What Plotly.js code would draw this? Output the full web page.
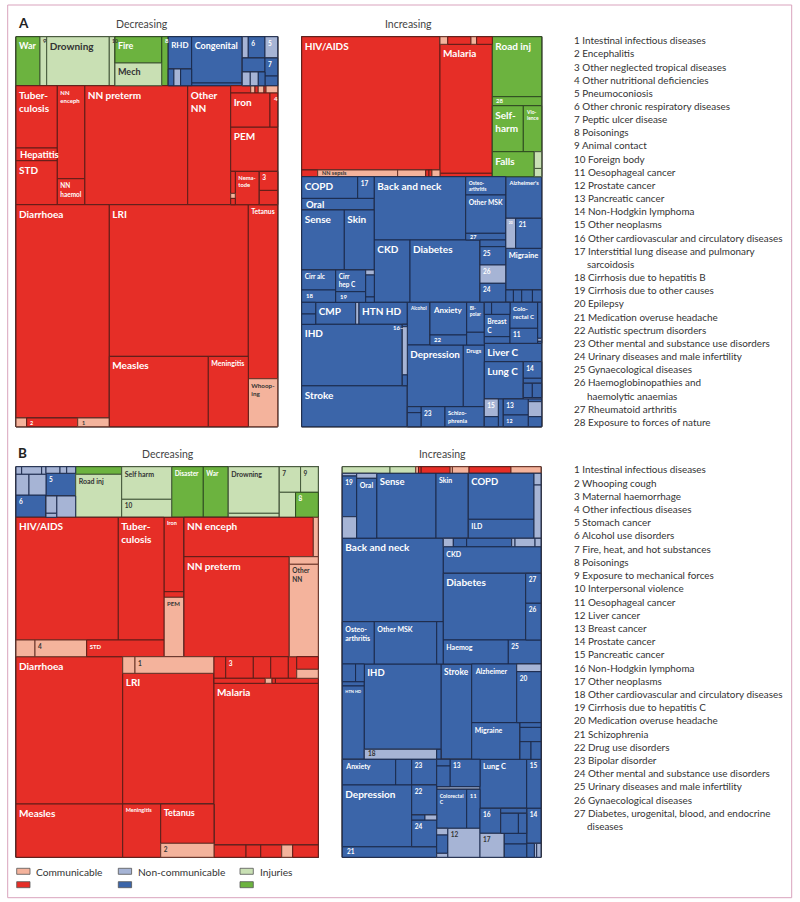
<!DOCTYPE html>
<html><head><meta charset="utf-8">
<script src="https://cdn.plot.ly/plotly-3.0.1.min.js"></script>
<style>html,body{margin:0;padding:0;background:#fff;}#chart{width:800px;height:902px;}</style>
</head><body><div id="chart"></div>
<script>
// ---------------- DATA ----------------
// Leaf: [label, value (relative burden = tile area), kind]
// kind: C communicable (dark), c communicable (light), N non-communicable (dark), n (light), I injuries (dark), i (light)
// Group: {d:'h'|'v', c:[children]}  (h = side by side, v = stacked)
const decA = {d:'v', c:[
  {d:'h', c:[['War',1176,'I'],['9',328,'i'],['Drowning',3067,'i'],['10',279,'i'],
    {d:'v', c:[['Fire',1228,'I'],['Mech',1060,'i']]},
    ['8',323,'I'],
    {d:'v', c:[['RHD',756,'N'], {d:'h', c:[['',95,'N'],['',112,'n'],['',184,'N']]}]},
    {d:'v', c:[['Congenital',2343,'N'],['',137,'N']]},
    {d:'v', c:[{d:'h', c:[['',128,'n'],['6',356,'N'],['5',271,'n']]},
               {d:'h', c:[{d:'v', c:[['',318,'N'], {d:'h', c:[['',110,'n'],['',110,'n'],['',92,'N']]}]},
                          {d:'v', c:[['7',229,'N'],['',123,'N']]}]}]}
  ]},
  {d:'h', c:[
    {d:'v', c:[['Tuber-<br>culosis',2573,'C'],['Hepatitis',525,'C'],['STD',1817,'C']]},
    {d:'v', c:[['NN<br>enceph',2548,'C'],['NN<br>haemol',712,'C']]},
    ['NN preterm',12257,'C'],
    ['Other<br>NN',5117,'C'],
    {d:'v', c:[
      {d:'h', c:[['',146,'C'],['',31,'c'],['',24,'C'],['',42,'c'],['',15,'C'],['',85,'c']]},
      {d:'h', c:[['Iron',1336,'C'],['4',262,'C']]},
      ['PEM',2087,'C'],
      {d:'h', c:[{d:'v', c:[['',101,'C'],['',23,'c'],['',29,'C']]}, ['Nema-<br>tode',799,'C'], {d:'v', c:[['3',350,'C'],['',263,'C']]}]}
    ]}
  ]},
  {d:'h', c:[
    {d:'v', c:[['Diarrhoea',19901,'C'], {d:'h', c:[['',93,'c'],['2',444,'C'],['1',275,'c']]}]},
    {d:'v', c:[['LRI',21086,'C'], {d:'h', c:[['Measles',6960,'C'],['Meningitis',2812,'C']]}]},
    {d:'v', c:[['Tetanus',5116,'C'],['Whoop-<br>ing',1411,'c']]}
  ]}
]};

const incA = {d:'v', c:[
  {d:'h', c:[
    {d:'v', c:[['HIV/AIDS',18435,'C'], {d:'h', c:[['',107,'C'],['NN sepsis',536,'c'],['',188,'c'],['',22,'C'],['',20,'C'],['',54,'c']]}]},
    {d:'v', c:[{d:'h', c:[['',59,'c'],['',177,'C'],['',43,'c'],['',119,'C']]}, ['Malaria',6747,'C'], ['',178,'C']]},
    {d:'v', c:[['Road inj',2964,'I'],['28',445,'I'],
               {d:'h', c:[['Self-<br>harm',1426,'I'],['Vio-<br>lence',846,'I']]},
               {d:'h', c:[['Falls',1050,'I'], {d:'v', c:[['',124,'i'],['',61,'i']]}]}]}
  ]},
  {d:'h', c:[
    {d:'v', c:[
      {d:'h', c:[['COPD',1210,'N'],['17',359,'N']]},
      ['Oral',849,'N'],
      {d:'h', c:[['Sense',2556,'N'],['Skin',1800,'N']]},
      {d:'h', c:[{d:'v', c:[['Cirr alc',680,'N'],['18',418,'N']]},
                 {d:'v', c:[['Cirr<br>hep C',651,'N'],['19',318,'N']]},
                 {d:'v', c:[['',43,'n'],['',189,'N'],['',46,'N']]}]}
    ]},
    {d:'v', c:[
      {d:'h', c:[['Back and neck',5786,'N'], {d:'v', c:[['Osteo-<br>arthritis',732,'N'],['Other MSK',1532,'N'],['27',268,'N']]}]},
      {d:'h', c:[['CKD',2224,'N'],['Diabetes',4361,'N'], {d:'v', c:[['',172,'N'],['25',470,'N'],['26',470,'n'],['24',488,'N']]}]}
    ]},
    {d:'v', c:[
      ["Alzheimer's",1498,'N'],
      {d:'h', c:[['20',300,'n'],['21',780,'N']]},
      ['Migraine',1501,'N'],
      {d:'h', c:[['',95,'N'],['',102,'N'],['',132,'N'],['',114,'N']]}
    ]}
  ]},
  {d:'h', c:[
    {d:'v', c:[
      {d:'h', c:[{d:'v', c:[['',164,'N'],['',144,'N']]}, ['CMP',880,'N'], ['',73,'n'], ['HTN HD',1063,'N']]},
      {d:'h', c:[['IHD',6177,'N'], {d:'v', c:[['',12,'N'],['16',242,'n'],['',54,'N']]}]},
      ['Stroke',4330,'N']
    ]},
    {d:'v', c:[
      {d:'h', c:[['Alcohol',969,'N'], {d:'v', c:[['Anxiety',1200,'N'],['22',367,'N']]}, {d:'v', c:[['Bi-<br>polar',528,'N'],['',224,'N']]}]},
      {d:'h', c:[['Depression',3455,'N'],['Drugs',1296,'N']]},
      {d:'h', c:[{d:'v', c:[['',82,'N'],['',192,'N']]}, ['23',480,'N'], ['Schizo-<br>phrenia',786,'N']]}
    ]},
    {d:'v', c:[
      {d:'h', c:[{d:'v', c:[{d:'h', c:[['',88,'N'],['',221,'N']]}, ['Breast<br>C',576,'N'], ['',170,'N']]},
                 {d:'v', c:[['Colo-<br>rectal C',720,'N'],['11',416,'N']]},
                 {d:'v', c:[['',144,'N'],['',12,'n'],['',8,'N']]}]},
      ['Liver C',1056,'N'],
      {d:'h', c:[['Lung C',1455,'N'], {d:'v', c:[['14',305,'N'],['',92,'N'], {d:'h', c:[['',129,'N'],['',134,'N']]}, ['',26,'n']]}]},
      {d:'h', c:[{d:'v', c:[['15',248,'n'],['',140,'N']]}, ['',139,'N'], {d:'v', c:[['13',400,'N'],['12',293,'N']]}, {d:'v', c:[['',36,'N'],['',201,'n'],['',134,'N']]}]}
    ]}
  ]}
]};

const decB = {d:'v', c:[
  {d:'h', c:[
    {d:'v', c:[{d:'h', c:[['',43,'n'],['',152,'n'],['',33,'n']]}, {d:'h', c:[['',269,'n'],['',352,'n']]}, ['6',669,'N']]},
    {d:'v', c:[{d:'h', c:[['',92,'n'],['',44,'n'],['',59,'n']]}, ['5',674,'N'], {d:'h', c:[{d:'v', c:[['',185,'n'],['',43,'n']]}, ['',405,'n']]}]},
    {d:'v', c:[['',350,'I'],['Road inj',1978,'i']]},
    {d:'v', c:[['Self harm',1630,'i'],['10',900,'i']]},
    ['Disaster',1599,'I'],
    ['War',1265,'I'],
    {d:'v', c:[['Drowning',2377,'i'],['',204,'i']]},
    {d:'v', c:[{d:'h', c:[['7',545,'i'],['9',453,'i']]}, {d:'h', c:[['',408,'i'],['8',568,'I']]}]}
  ]},
  {d:'h', c:[
    {d:'v', c:[{d:'h', c:[['HIV/AIDS',12552,'C'],['Tuber-<br>culosis',5607,'C']]}, {d:'h', c:[['',317,'c'],['4',863,'c'],['STD',1291,'C']]}]},
    {d:'v', c:[['Iron',1488,'C'],['',112,'C'],['PEM',1188,'c']]},
    {d:'v', c:[{d:'h', c:[['NN enceph',5094,'C'],['',197,'c']]},
               {d:'h', c:[['NN preterm',10530,'C'], {d:'v', c:[['',220,'c'],['Other<br>NN',2680,'c']]}]}]}
  ]},
  {d:'h', c:[
    {d:'v', c:[['Diarrhoea',15717,'C'],['Measles',5687,'C']]},
    {d:'v', c:[{d:'h', c:[['',204,'c'],['1',1311,'c']]}, ['LRI',11933,'C'],
               {d:'h', c:[['Meningitis',2025,'C'], {d:'v', c:[['Tetanus',2095,'C'],['2',746,'c']]}]}]},
    {d:'v', c:[
      {d:'h', c:[['',253,'C'],['3',596,'C'],['',376,'C'],['',380,'C'],['',181,'C'], {d:'v', c:[['',272,'C'],['',194,'c']]}]},
      {d:'h', c:[['',257,'C'],['',34,'c'],['',17,'C'],['',215,'C']]},
      ['Malaria',16865,'C'],
      {d:'h', c:[['',394,'C'],['',181,'C'],['',258,'C'],['',135,'c'],['',315,'C']]}
    ]}
  ]}
]};

const incB = {d:'v', c:[
  {d:'h', c:[['',315,'i'],['',170,'i'],['',18,'c'],['',18,'C'],['',191,'C'],['',15,'c'],['',110,'c'],['',277,'C'],['',198,'c']]},
  {d:'h', c:[
    {d:'v', c:[['',39,'n'],['19',586,'N'],['',311,'n']]},
    {d:'v', c:[['',100,'n'],['Oral',1200,'N']]},
    ['Sense',3855,'N'],
    ['Skin',2100,'N'],
    {d:'v', c:[['COPD',3022,'N'],['ILD',1248,'N']]},
    {d:'v', c:[['',82,'n'],['',373,'n']]}
  ]},
  {d:'h', c:[
    {d:'v', c:[['Back and neck',8423,'N'], {d:'h', c:[['Osteo-<br>arthritis',1354,'N'],['Other MSK',2640,'N'],['',279,'N']]}]},
    {d:'v', c:[
      {d:'h', c:[['',84,'n'],['',112,'N'],['',378,'N'],['',28,'n'],['',168,'n'],['',50,'n']]},
      ['CKD',2599,'N'],
      {d:'h', c:[['Diabetes',5494,'N'], {d:'v', c:[['27',459,'N'],['26',562,'N']]}]},
      {d:'h', c:[['Haemog',1560,'N'],['25',785,'N']]}
    ]}
  ]},
  {d:'h', c:[
    {d:'v', c:[{d:'h', c:[['',235,'N'],['',154,'N']]}, ['',95,'N'], ['HTN HD',1613,'N']]},
    {d:'v', c:[['IHD',6543,'N'], {d:'h', c:[['18',724,'n'],['',43,'N']]}]},
    ['Stroke',2926,'N'],
    {d:'v', c:[
      {d:'h', c:[['Alzheimer',2642,'N'], {d:'v', c:[['',187,'n'],['20',1239,'N']]}]},
      {d:'h', c:[['Migraine',1768,'N'], {d:'v', c:[['',99,'N'],['',300,'N'], {d:'h', c:[['',194,'N'],['',176,'N']]}]}]}
    ]}
  ]},
  {d:'h', c:[
    {d:'v', c:[
      {d:'h', c:[['Anxiety',1372,'N'],['',411,'N'],['23',643,'N']]},
      {d:'h', c:[['Depression',4282,'N'], {d:'v', c:[['22',750,'N'], {d:'h', c:[['',67,'N'],['',59,'n']]}, ['24',668,'N']]}]},
      ['21',1001,'N']
    ]},
    {d:'v', c:[
      {d:'h', c:[{d:'v', c:[['',89,'N'],['',275,'N']]}, ['13',822,'N']]},
      ['',113,'n'],
      {d:'h', c:[['Colorectal<br>C',1170,'N'],['11',519,'N']]},
      {d:'h', c:[{d:'v', c:[['',74,'n'],['',201,'N'],['',44,'n']]}, ['12',937,'n']]}
    ]},
    {d:'v', c:[
      ['Lung C',2288,'N'],
      {d:'h', c:[['16',518,'N'], {d:'v', c:[['',130,'N'], {d:'h', c:[['',354,'N'],['',166,'N']]}]}]},
      {d:'h', c:[['17',583,'n'], {d:'v', c:[['',240,'N'],['',298,'N']]}]}
    ]},
    {d:'v', c:[['15',701,'N'],['14',501,'N'], {d:'h', c:[['',108,'N'],['',32,'n'],['',60,'n']]}]}
  ]}
]};

const listA = ['1 Intestinal infectious diseases','2 Encephalitis','3 Other neglected tropical diseases',
  '4 Other nutritional deficiencies','5 Pneumoconiosis','6 Other chronic respiratory diseases','7 Peptic ulcer disease',
  '8 Poisonings','9 Animal contact','10 Foreign body','11 Oesophageal cancer','12 Prostate cancer','13 Pancreatic cancer',
  '14 Non-Hodgkin lymphoma','15 Other neoplasms','16 Other cardiovascular and circulatory diseases',
  '17 Interstitial lung disease and pulmonary|sarcoidosis','18 Cirrhosis due to hepatitis B','19 Cirrhosis due to other causes',
  '20 Epilepsy','21 Medication overuse headache','22 Autistic spectrum disorders','23 Other mental and substance use disorders',
  '24 Urinary diseases and male infertility','25 Gynaecological diseases','26 Haemoglobinopathies and|haemolytic anaemias',
  '27 Rheumatoid arthritis','28 Exposure to forces of nature'];
const listB = ['1 Intestinal infectious diseases','2 Whooping cough','3 Maternal haemorrhage','4 Other infectious diseases',
  '5 Stomach cancer','6 Alcohol use disorders','7 Fire, heat, and hot substances','8 Poisonings',
  '9 Exposure to mechanical forces','10 Interpersonal violence','11 Oesophageal cancer','12 Liver cancer','13 Breast cancer',
  '14 Prostate cancer','15 Pancreatic cancer','16 Non-Hodgkin lymphoma','17 Other neoplasms',
  '18 Other cardiovascular and circulatory diseases','19 Cirrhosis due to hepatitis C','20 Medication overuse headache',
  '21 Schizophrenia','22 Drug use disorders','23 Bipolar disorder','24 Other mental and substance use disorders',
  '25 Urinary diseases and male infertility','26 Gynaecological diseases','27 Diabetes, urogenital, blood, and endocrine|diseases'];
const legendGroups = ['Communicable','Non-communicable','Injuries'];
const legendKinds = [['c','C'],['n','N'],['i','I']];

// ---------------- STYLE ----------------
const W = 800, H = 902;
const FONT = 'Lato, "Open Sans", sans-serif';
const FILL = {C:'#e62e27', c:'#f4b39c', N:'#3b65a9', n:'#a6b4d5', I:'#6cb33f', i:'#c9e0b4', G:'#ffffff'};
const EDGE = {C:'#5e1d18', c:'#6a3428', N:'#1b2a4c', n:'#1f2e50', I:'#2e4a20', i:'#44583a', G:'#3d3535'};
const DARKTXT = '#333333';
const SIZE_DEFAULT = {decA:10, incA:10, decB:10, incB:7};
const SIZE_NUM = 6.5;
const SIZE_OVR = {
  decA:{'NN<br>enceph':6,'NN<br>haemol':7,'Nema-<br>tode':6.5,'Meningitis':7,'Tetanus':7,'Whoop-<br>ing':7.5,'War':9,'Fire':9,'Mech':9,'RHD':9,'Congenital':9},
  incA:{'Vio-<br>lence':7,'Osteo-<br>arthritis':7,'Other MSK':7,"Alzheimer's":7,'Migraine':7.5,'Cirr alc':6.5,
        'Cirr<br>hep C':6.5,'Alcohol':6.5,'Anxiety':8,'Bi-<br>polar':6.5,'Drugs':6.5,'Schizo-<br>phrenia':7,'Breast<br>C':7,'Colo-<br>rectal C':6.5},
  decB:{'Road inj':7,'Self harm':7,'Disaster':6.5,'War':6.5,'Drowning':7,'Iron':5.5,'PEM':6,'Other<br>NN':6.5,'STD':6,'Meningitis':5.5,'Tetanus':9},
  incB:{'Sense':9.5,'COPD':9.5,'Back and neck':10,'Diabetes':10,'IHD':9.5,'Stroke':8.5,'Depression':10,'HTN HD':5,'Lung C':7.5}
};
const LIGHTBLUE_TXT = {decA:'#ffffff', incA:'#ffffff', decB:'#ffffff', incB:DARKTXT};
// labels in tiles too thin for inside text: drawn as callouts [x, yCenter, size, color, shown text]
const CALLOUT = {
  decA:{'9':[41,40.5,6,DARKTXT],'10':[109.6,40.5,5,DARKTXT],'8':[162.5,40.5,6,'#fff'],'Hepatitis':[18,154.3,9.5,'#fff'],
        '4':[271.8,98.5,6,'#fff'],'2':[28,422.8,5.5,'#fff'],'1':[79.5,422.8,5.5,DARKTXT]},
  incA:{'16':[390.5,327.3,6,'#fff','16\u2013'],'28':[494.3,100.8,6,'#fff'],'NN sepsis':[320,172.9,5.5,DARKTXT],
        'Oral':[303.5,204.3,9.5,'#fff'],'18':[303.5,295,6,'#fff'],'19':[337.5,296.2,6,'#fff'],'27':[467.5,236.7,5.5,'#fff'],
        '22':[432,339.5,6,'#fff']},
  decB:{},
  incB:{'21':[344.5,851.5,6.5,'#fff'],'18':[366,753.8,6.5,DARKTXT]}
};
// split direction at each depth for 'slice-dice' packing (depth 0 = side by side)
const dirAt = d => (d % 2 === 0 ? 'h' : 'v');

function build(tree, key) {
  const ids=[], parents=[], values=[], fills=[], edges=[], texts=[], tcol=[], tsize=[];
  let n = 0;
  function push(parent, value, kind, label) {
    const id = key + '_' + (n++);
    ids.push(id); parents.push(parent); values.push(value);
    fills.push(FILL[kind]); edges.push(EDGE[kind]);
    texts.push(CALLOUT[key][label] ? '' : label);
    let col = '#ffffff';
    if (kind === 'c' || kind === 'i') col = DARKTXT;
    if (kind === 'n') col = LIGHTBLUE_TXT[key];
    tcol.push(col);
    let s = /^\d+$/.test(label) ? SIZE_NUM : SIZE_DEFAULT[key];
    if (SIZE_OVR[key][label] !== undefined) s = SIZE_OVR[key][label];
    tsize.push(s);
    return id;
  }
  function add(node, parent, depth) {
    if (Array.isArray(node)) { push(parent, node[1], node[2], node[0]); return; }
    if (node.d !== dirAt(depth)) { const w = push(parent, 0, 'G', ''); add(node, w, depth + 1); return; }
    const id = push(parent, 0, 'G', '');
    node.c.forEach(ch => add(ch, id, depth + 1));
  }
  add(tree, '', 0);
  return {ids, parents, values, fills, edges, texts, tcol, tsize};
}

function px2dom(x0, x1, y0, y1) { return {x:[x0 / W, x1 / W], y:[1 - y1 / H, 1 - y0 / H]}; }

function trace(tree, key, dom) {
  const b = build(tree, key);
  return {
    type:'treemap', ids:b.ids, labels:b.ids, parents:b.parents, values:b.values,
    branchvalues:'remainder', sort:false, text:b.texts, textinfo:'text',
    textposition:'top left', hoverinfo:'skip',
    textfont:{family:FONT, size:b.tsize, color:b.tcol, weight:'bold'},
    insidetextfont:{family:FONT, size:b.tsize, color:b.tcol, weight:'bold'},
    marker:{colors:b.fills, line:{color:b.edges, width:1}, pad:{t:0, l:0, r:0, b:0}},
    tiling:{packing:'slice-dice', pad:0},
    leaf:{opacity:1}, pathbar:{visible:false}, root:{color:'rgba(0,0,0,0)'},
    domain:dom
  };
}

const data = [
  trace(decA, 'decA', px2dom(16, 277.7, 36.7, 426.7)),
  trace(incA, 'incA', px2dom(301.7, 541.7, 36.7, 426.7)),
  trace(decB, 'decB', px2dom(16, 318.3, 466.7, 857.3)),
  trace(incB, 'incB', px2dom(342.3, 541, 466.7, 857.3))
];

const ann = [];
const A = (x, y, text, opt) => ann.push(Object.assign({xref:'paper', yref:'paper', x:x / W, y:1 - y / H, text,
  showarrow:false, xanchor:'left', yanchor:'middle', font:{family:FONT, size:9.9, color:'#333'}}, opt || {}));

Object.keys(CALLOUT).forEach(k => Object.keys(CALLOUT[k]).forEach(lab => {
  const c = CALLOUT[k][lab];
  A(c[0], c[1], c[4] || lab, {font:{family:FONT, size:c[2], color:c[3], weight:'bold'}, xshift:0});
}));

A(15.5, 23.5, '<b>A</b>', {font:{family:FONT, size:13.5, color:'#222'}});
A(141.7, 24.5, 'Decreasing', {xanchor:'center', font:{family:FONT, size:10.5, color:'#444'}});
A(408, 24.5, 'Increasing', {xanchor:'center', font:{family:FONT, size:10.5, color:'#444'}});
A(15.5, 453, '<b>B</b>', {font:{family:FONT, size:13.5, color:'#222'}});
A(167.5, 454, 'Decreasing', {xanchor:'center', font:{family:FONT, size:10.5, color:'#444'}});
A(442.5, 454, 'Increasing', {xanchor:'center', font:{family:FONT, size:10.5, color:'#444'}});

function list(items, y0, step) {
  let k = 0;
  items.forEach(it => {
    const parts = it.split('|');
    A(571.5, y0 + k * step, parts[0]); k++;
    for (let j = 1; j < parts.length; j++) { A(585, y0 + k * step, parts[j]); k++; }
  });
}
list(listA, 40.2, 13.16);
list(listB, 469.4, 13.21);

const shapes = [{type:'rect', xref:'paper', yref:'paper', x0:7.7 / W, x1:791.7 / W, y0:1 - 897.7 / H, y1:1 - 5 / H,
  line:{color:'#d9a3bd', width:1}, fillcolor:'rgba(0,0,0,0)'}];
const legX = [16.7, 118.3, 240];
legendGroups.forEach((g, i) => {
  legendKinds[i].forEach((k, r) => {
    const y0 = r === 0 ? 868.3 : 881.7;
    shapes.push({type:'rect', xref:'paper', yref:'paper', x0:legX[i] / W, x1:(legX[i] + 13.3) / W,
      y0:1 - (y0 + 6) / H, y1:1 - y0 / H, fillcolor:FILL[k], line:{color:'#555', width:0.8}});
  });
  A(legX[i] + 17.5, 871.5, g, {font:{family:FONT, size:10.2, color:'#333'}});
});

Plotly.newPlot('chart', data, {
  width:W, height:H, margin:{l:0, r:0, t:0, b:0}, paper_bgcolor:'#ffffff',
  annotations:ann, shapes:shapes, showlegend:false
}, {staticPlot:true});
</script></body></html>
